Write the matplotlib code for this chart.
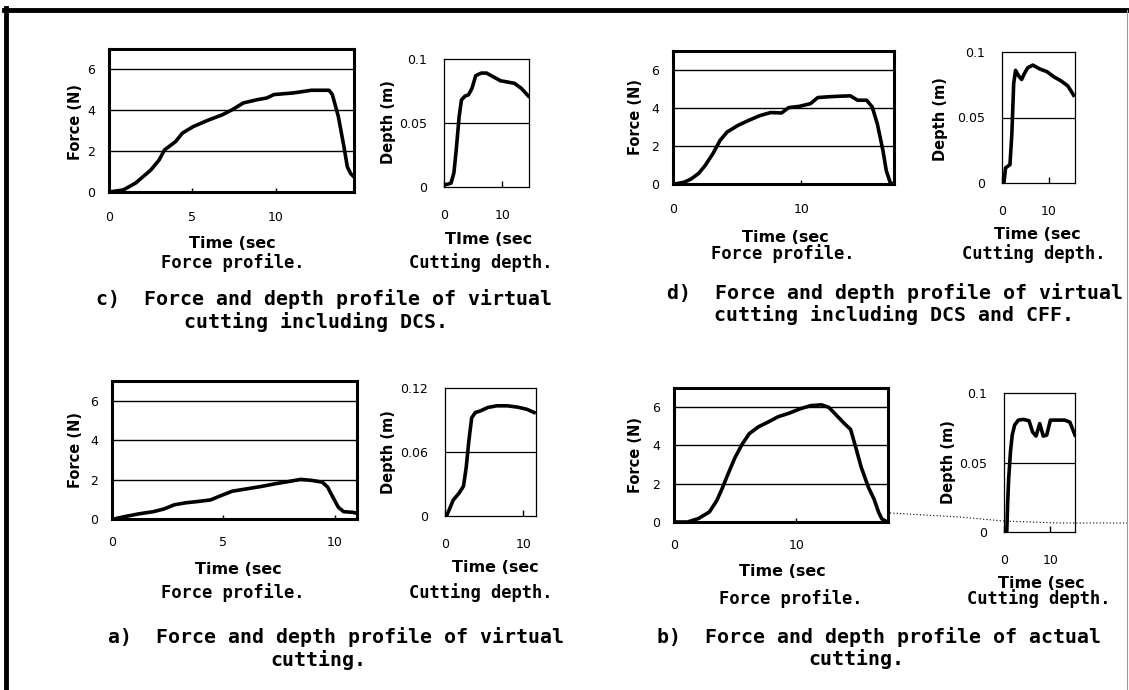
import matplotlib
matplotlib.use("Agg")
import matplotlib.pyplot as plt
from matplotlib.lines import Line2D

# ---- data ----
# c) virtual cutting including DCS
c_force_t = [0, 0.86, 1.6, 2.5, 3.0, 3.33, 4.0, 4.4, 5.05, 5.9, 6.8, 7.4, 8.06, 8.9,
             9.46, 9.9, 11.07, 12.15, 13.2, 13.4, 13.76, 14.1, 14.3, 14.5, 14.7]
c_force = [0, 0.1, 0.44, 1.07, 1.56, 2.06, 2.47, 2.88, 3.2, 3.5, 3.78, 4.03, 4.36, 4.52,
           4.6, 4.77, 4.85, 4.98, 4.98, 4.77, 3.7, 2.2, 1.23, 0.9, 0.74]
c_depth_t = [0.3, 1.2, 1.7, 2.1, 2.6, 3.0, 3.6, 4.2, 4.8, 5.45, 6.4, 7.3, 8.5, 9.7,
             10.9, 12.1, 13.3, 14.5]
c_depth = [0.0018, 0.003, 0.011, 0.029, 0.055, 0.068, 0.071, 0.072, 0.077, 0.087, 0.089,
           0.089, 0.086, 0.083, 0.082, 0.081, 0.077, 0.071]

# d) virtual cutting including DCS and CFF
d_force_t = [0.14, 0.85, 1.4, 2.0, 2.5, 3.1, 3.66, 4.2, 5.07, 5.9, 6.76, 7.6, 8.45, 9.0,
             9.86, 10.7, 11.27, 12.1, 12.96, 13.8, 14.37, 15.07, 15.5, 15.9, 16.34, 16.6,
             16.9, 17.1]
d_force = [0, 0.09, 0.26, 0.56, 0.97, 1.59, 2.29, 2.73, 3.09, 3.35, 3.6, 3.76, 3.74, 4.02,
           4.09, 4.23, 4.55, 4.59, 4.62, 4.64, 4.41, 4.41, 4.06, 3.17, 1.76, 0.7, 0.09, 0]
d_depth_t = [0.45, 0.75, 1.7, 2.1, 2.5, 2.9, 3.5, 4.2, 4.7, 5.5, 6.6, 8.1, 9.6, 11.1,
             12.6, 14.1, 15.3]
d_depth = [0.001, 0.0115, 0.014, 0.037, 0.076, 0.086, 0.082, 0.079, 0.083, 0.088, 0.090,
           0.087, 0.085, 0.081, 0.078, 0.074, 0.067]

# a) virtual cutting
a_force_t = [0.08, 0.56, 1.2, 1.85, 2.34, 2.8, 3.3, 3.95, 4.43, 4.9, 5.4, 6.05, 6.7, 7.34,
             7.98, 8.47, 8.95, 9.44, 9.68, 9.92, 10.16, 10.4, 10.8, 11.0]
a_force = [0, 0.12, 0.26, 0.37, 0.51, 0.72, 0.82, 0.9, 0.97, 1.19, 1.41, 1.53, 1.65, 1.79,
           1.91, 2.01, 1.96, 1.87, 1.62, 1.1, 0.6, 0.37, 0.34, 0.29]
a_depth_t = [0.23, 0.6, 1.05, 1.8, 2.36, 2.7, 3.05, 3.4, 3.86, 4.5, 5.45, 6.6, 7.95, 9.3,
             10.45, 11.36]
a_depth = [0.0006, 0.007, 0.015, 0.0215, 0.028, 0.0455, 0.071, 0.092, 0.097, 0.0985,
           0.1017, 0.1033, 0.1033, 0.102, 0.1, 0.097]

# b) actual cutting
b_force_t = [0.18, 1.1, 2.0, 2.9, 3.5, 3.93, 4.38, 4.97, 5.56, 6.15, 6.9, 7.63, 8.52, 9.4,
             10.3, 11.18, 12.07, 12.66, 13.25, 14.0, 14.44, 14.88, 15.3, 15.9, 16.36,
             16.75, 17.0, 17.3]
b_force = [0, 0, 0.18, 0.53, 1.12, 1.74, 2.45, 3.34, 4.05, 4.61, 4.97, 5.2, 5.5, 5.68,
           5.91, 6.08, 6.12, 5.99, 5.6, 5.1, 4.84, 3.86, 2.88, 1.81, 1.19, 0.48, 0.16, 0.05]
b_depth_t = [0.6, 0.77, 1.0, 1.4, 1.77, 2.3, 3.1, 4.2, 5.4, 6.15, 6.9, 7.7, 8.46, 9.2,
             10.0, 11.5, 13.1, 14.2, 15.3]
b_depth = [0, 0.019, 0.038, 0.058, 0.0697, 0.077, 0.0805, 0.081, 0.08, 0.072, 0.069,
           0.078, 0.069, 0.0697, 0.0805, 0.0805, 0.0805, 0.079, 0.0697]

# dotted stray line in b) (figure pixels of the scan)
stray_x = [890, 960, 1003, 1060, 1129]
stray_y = [513, 517, 521, 523, 523]

W, H = 1129, 690
fig = plt.figure(figsize=(W / 100, H / 100), dpi=100)

MONO = "DejaVu Sans Mono"


def box(l, r, t, b):
    return [l / W, 1 - b / H, (r - l) / W, (b - t) / H]


def ftext(x, y, s, **kw):
    kw.setdefault("ha", "center")
    kw.setdefault("va", "center")
    fig.text(x / W, 1 - y / H, s, **kw)


def force_axes(rect, t, f, xmax, xticks, xpad):
    ax = fig.add_axes(box(*rect))
    ax.plot(t, f, color="black", lw=2.6, solid_joinstyle="round")
    ax.set_xlim(0, xmax)
    ax.set_ylim(0, 7)
    ax.set_yticks([0, 2, 4, 6])
    ax.set_xticks(xticks)
    for y in [2, 4, 6]:
        ax.axhline(y, color="black", lw=1.0)
    for s in ax.spines.values():
        s.set_linewidth(2.2)
    ax.tick_params(axis="x", direction="in", length=3, width=1, pad=xpad, labelsize=9)
    ax.tick_params(axis="y", length=0, pad=10, labelsize=9)
    return ax


def depth_axes(rect, t, d, xmax, ymax, ylabels, xpad):
    ax = fig.add_axes(box(*rect))
    ax.plot(t, d, color="black", lw=2.6, solid_joinstyle="round")
    ax.set_xlim(0, xmax)
    ax.set_ylim(0, ymax)
    ax.set_yticks([0, ymax / 2, ymax])
    ax.set_yticklabels(ylabels)
    ax.set_xticks([0, 10])
    ax.axhline(ymax / 2, color="black", lw=0.9)
    for s in ax.spines.values():
        s.set_linewidth(0.9)
    ax.tick_params(axis="x", direction="in", length=4, width=1, pad=xpad, labelsize=9)
    ax.tick_params(axis="y", length=0, pad=12, labelsize=9)
    return ax


def labels(fyl, dyl, ftime, dtime, fprof, dprof, dtime_text="Time (sec"):
    ftext(*fyl, "Force (N)", rotation=90, fontsize=10.5, fontweight="bold")
    ftext(*dyl, "Depth (m)", rotation=90, fontsize=10.5, fontweight="bold")
    ftext(*ftime, "Time (sec", fontsize=11.5, fontweight="bold")
    ftext(*dtime, dtime_text, fontsize=11.5, fontweight="bold")
    ftext(*fprof, "Force profile.", fontsize=12.3, fontweight="bold", family=MONO)
    ftext(*dprof, "Cutting depth.", fontsize=12.3, fontweight="bold", family=MONO)


def caption(x1, y1, s1, xc2, y2, s2):
    ftext(x1, y1, s1, ha="left", fontsize=14.3, fontweight="bold", family=MONO)
    ftext(xc2, y2, s2, fontsize=14.3, fontweight="bold", family=MONO)


# c)
force_axes((109, 354, 49, 192), c_force_t, c_force, 14.7, [0, 5, 10], 14)
depth_axes((444, 529, 59, 187), c_depth_t, c_depth, 14.6, 0.1, ["0", "0.05", "0.1"], 16)
labels((76, 122), (388, 122), (232, 243), (489, 240), (233, 263), (481, 263),
       dtime_text="TIme (sec")
caption(96, 299, "c)  Force and depth profile of virtual", 316, 322,
        "cutting including DCS.")

# d)
force_axes((673, 894, 51, 184), d_force_t, d_force, 17.2, [0, 10], 14)
depth_axes((1002, 1075, 52, 183), d_depth_t, d_depth, 15.6, 0.1, ["0", "0.05", "0.1"], 16)
labels((635, 117), (941, 119), (785, 237), (1037, 235), (783, 254), (1034, 254))
caption(667, 293, "d)  Force and depth profile of virtual", 894, 315,
        "cutting including DCS and CFF.")

# a)
force_axes((112, 357, 381, 519), a_force_t, a_force, 11.0, [0, 5, 10], 12)
depth_axes((445, 536, 388, 516), a_depth_t, a_depth, 11.6, 0.12, ["0", "0.06", "0.12"], 16)
labels((75, 450), (388, 452), (238, 570), (495, 568), (233, 593), (481, 593))
caption(108, 637, "a)  Force and depth profile of virtual", 318, 660, "cutting.")

# b)
force_axes((674, 888, 388, 522), b_force_t, b_force, 17.5, [0, 10], 12)
depth_axes((1004, 1075, 393, 532), b_depth_t, b_depth, 15.3, 0.1, ["0", "0.05", "0.1"], 16)
labels((636, 455), (948, 462), (782, 572), (1041, 583), (791, 599), (1039, 599))
caption(657, 637, "b)  Force and depth profile of actual", 856, 659, "cutting.")

# stray dotted line of the scan
fig.add_artist(Line2D([x / W for x in stray_x], [1 - y / H for y in stray_y],
                      color="black", lw=0.8, ls=(0, (1, 2))))

# outer frame: thick left and top, thin right
fig.add_artist(Line2D([6 / W, 6 / W], [0, 1 - 8 / H], color="black", lw=3.5))
fig.add_artist(Line2D([4 / W, 1], [1 - 10 / H, 1 - 10 / H], color="black", lw=3.5))
fig.add_artist(Line2D([1127 / W, 1127 / W], [0, 1 - 10 / H], color="0.6", lw=0.8))

fig.savefig("out.png", dpi=100)
